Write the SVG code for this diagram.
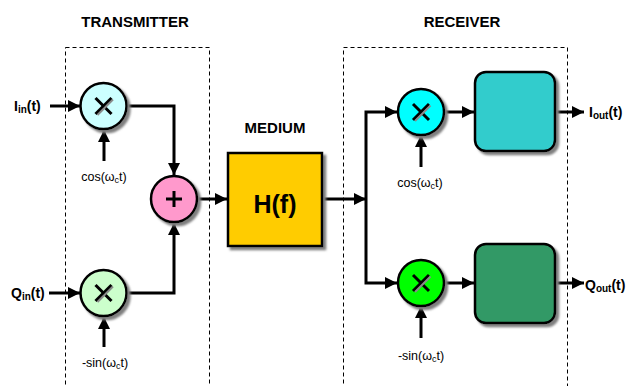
<svg xmlns="http://www.w3.org/2000/svg" width="630" height="386" viewBox="0 0 630 386">
  <defs>
    <marker id="arrow" markerUnits="userSpaceOnUse" markerWidth="13" markerHeight="12" refX="12" refY="6" orient="auto">
      <path d="M0,0 L12,6 L0,12 z" fill="#000"/>
    </marker>
    <filter id="shadow" x="-20%" y="-20%" width="150%" height="150%">
      <feDropShadow dx="3" dy="3" stdDeviation="0.8" flood-color="#7f7f7f" flood-opacity="1"/>
    </filter>
    <!-- multiplier glyph: black cross with a grey offset on the rising stroke -->
    <g id="times">
      <line x1="-8" y1="-8" x2="8" y2="8" stroke="#000" stroke-width="3"/>
      <line x1="-8" y1="8" x2="8" y2="-8" stroke="#000" stroke-width="3"/>
      <line x1="-6" y1="9" x2="9.5" y2="-6.5" stroke="#8a8a8a" stroke-width="2"/>
    </g>
  </defs>
  <style>
    .frame { fill: none; stroke: #000; stroke-width: 1; stroke-dasharray: 4 3; }
    .title { font-family: "Liberation Sans", Arial, sans-serif; font-size: 15px; font-weight: bold; text-anchor: middle; fill: #000; }
    .sig { font-family: "Liberation Sans", Arial, sans-serif; font-size: 14px; font-weight: bold; fill: #000; }
    .sub { font-size: 10px; }
    .osc { font-family: "Liberation Sans", Arial, sans-serif; font-size: 12.5px; text-anchor: middle; fill: #000; }
    .osub { font-size: 9px; }
    .node { stroke: #000; stroke-width: 2.5; filter: url(#shadow); }
    .wire { fill: none; stroke: #000; stroke-width: 3; }
    .arr { marker-end: url(#arrow); }
  </style>

  <!-- section frames and headings -->
  <rect class="frame" x="65.5" y="47.5" width="144" height="350"/>
  <rect class="frame" x="343.5" y="47.5" width="224" height="350"/>
  <text class="title" x="135" y="27">TRANSMITTER</text>
  <text class="title" x="275" y="133">MEDIUM</text>
  <text class="title" x="462" y="27">RECEIVER</text>

  <!-- connectors -->
  <g id="connectors">
    <path class="wire arr" d="M50,106 H80"/>
    <path class="wire arr" d="M49,293 H80"/>
    <path class="wire arr" d="M104,161 V130"/>
    <path class="wire arr" d="M104,347 V317"/>
    <path class="wire arr" d="M127,106 H174 V175"/>
    <path class="wire arr" d="M127,293 H174 V223"/>
    <path class="wire arr" d="M197,199 H227"/>
    <path class="wire arr" d="M323,199 H366"/>
    <path class="wire arr" d="M366,199 V112 H397"/>
    <path class="wire arr" d="M366,199 V283 H397"/>
    <path class="wire arr" d="M421,167 V135"/>
    <path class="wire arr" d="M421,338 V306"/>
    <path class="wire arr" d="M444,112 H474"/>
    <path class="wire arr" d="M444,283 H474"/>
    <path class="wire arr" d="M556,112 H584"/>
    <path class="wire arr" d="M556,283 H584"/>
  </g>

  <!-- signal labels -->
  <text class="sig" x="14" y="111">I<tspan class="sub" dy="2">in</tspan><tspan dy="-2">(t)</tspan></text>
  <text class="sig" x="11" y="298">Q<tspan class="sub" dy="2">in</tspan><tspan dy="-2">(t)</tspan></text>
  <text class="sig" x="589" y="117">I<tspan class="sub" dy="2">out</tspan><tspan dy="-2">(t)</tspan></text>
  <text class="sig" x="585" y="290">Q<tspan class="sub" dy="2">out</tspan><tspan dy="-2">(t)</tspan></text>

  <text class="osc" x="104" y="181">cos(ω<tspan class="osub" dy="2">c</tspan><tspan dy="-2">t)</tspan></text>
  <text class="osc" x="105" y="367">-sin(ω<tspan class="osub" dy="2">c</tspan><tspan dy="-2">t)</tspan></text>
  <text class="osc" x="420" y="187">cos(ω<tspan class="osub" dy="2">c</tspan><tspan dy="-2">t)</tspan></text>
  <text class="osc" x="421" y="360">-sin(ω<tspan class="osub" dy="2">c</tspan><tspan dy="-2">t)</tspan></text>

  <!-- transmitter mixers and summer -->
  <g id="tx-mix-i">
    <circle class="node" cx="103.5" cy="106" r="23" fill="#CCFFFF"/>
    <use href="#times" x="103.5" y="106"/>
  </g>
  <g id="tx-mix-q">
    <circle class="node" cx="103.5" cy="293" r="23" fill="#CCFFCC"/>
    <use href="#times" x="103.5" y="293"/>
  </g>
  <g id="tx-sum">
    <circle class="node" cx="174" cy="199" r="23" fill="#FF99CC"/>
    <path d="M166,199 H182 M174,191 V207" stroke="#000" stroke-width="3"/>
  </g>

  <!-- channel -->
  <g id="medium">
    <rect class="node" x="228" y="153" width="94" height="93" fill="#FFCC00" stroke-width="3.5"/>
    <text x="275" y="213" font-family="'Liberation Sans', Arial, sans-serif" font-size="25" font-weight="bold" text-anchor="middle">H(f)</text>
  </g>

  <!-- receiver mixers and filters -->
  <g id="rx-mix-i">
    <circle class="node" cx="421" cy="112" r="23" fill="#00FFFF"/>
    <use href="#times" x="421" y="112"/>
  </g>
  <g id="rx-mix-q">
    <circle class="node" cx="421" cy="283" r="23" fill="#00FF00"/>
    <use href="#times" x="421" y="283"/>
  </g>
  <g id="rx-filter-i">
    <rect class="node" x="475" y="72" width="80" height="79" rx="11" fill="#33CCCC"/>
  </g>
  <g id="rx-filter-q">
    <rect class="node" x="475" y="244" width="80" height="79" rx="11" fill="#339966"/>
  </g>
</svg>
